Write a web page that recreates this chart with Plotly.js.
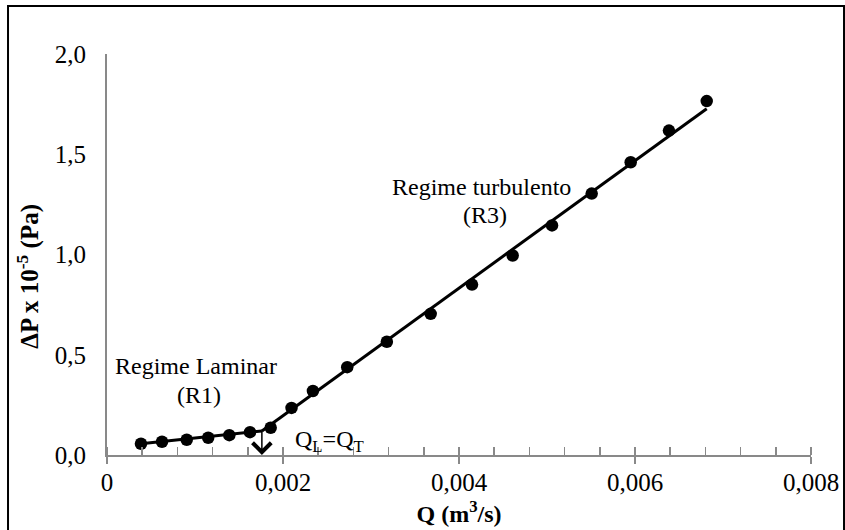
<!DOCTYPE html>
<html>
<head>
<meta charset="utf-8">
<script src="https://cdn.plot.ly/plotly-3.0.1.min.js"></script>
<style>
  html, body { margin: 0; padding: 0; background: #fff; }
  #chart { width: 845px; height: 530px; }
</style>
</head>
<body>
<div id="chart"></div>
<script>
// Measured points: flow rate Q (m3/s) and pressure drop ΔP x 10^-5 (Pa)
const flowQ = [0.000386, 0.000625, 0.000906, 0.00115, 0.00139, 0.001625, 0.00186,
               0.002097, 0.00234, 0.00273, 0.00318, 0.003678, 0.004148, 0.00461,
               0.005057, 0.005508, 0.005951, 0.006386, 0.006815];
const deltaP = [0.056, 0.066, 0.076, 0.086, 0.099, 0.114, 0.136,
                0.235, 0.319, 0.438, 0.565, 0.704, 0.850, 0.995,
                1.145, 1.304, 1.460, 1.618, 1.765];

// Trend lines (laminar R1 and turbulent R3)
const laminarFitQ = [0.000386, 0.00176];
const laminarFitP = [0.056, 0.120];
const turbulentFitQ = [0.00176, 0.006815];
const turbulentFitP = [0.120, 1.727];

// Tick labels
const xTickVals = [0, 0.002, 0.004, 0.006, 0.008];
const xTickText = ['0', '0,002', '0,004', '0,006', '0,008'];
const yTickVals = [0, 0.5, 1.0, 1.5, 2.0];
const yTickText = ['0,0', '0,5', '1,0', '1,5', '2,0'];

// Transition point Q_L = Q_T
const transitionQ = 0.00176;
const transitionP = 0.13;

const serif = "'Liberation Serif', 'Times New Roman', serif";
const axisGray = '#898989';

const traces = [
  { x: laminarFitQ, y: laminarFitP, mode: 'lines', type: 'scatter',
    line: { color: '#000', width: 3 }, hoverinfo: 'skip', showlegend: false },
  { x: turbulentFitQ, y: turbulentFitP, mode: 'lines', type: 'scatter',
    line: { color: '#000', width: 3 }, hoverinfo: 'skip', showlegend: false },
  { x: flowQ, y: deltaP, mode: 'markers', type: 'scatter',
    marker: { color: '#000', size: 12.5 }, showlegend: false }
];

const layout = {
  width: 845, height: 530,
  margin: { l: 107, r: 34, t: 54, b: 75 },
  paper_bgcolor: '#fff', plot_bgcolor: '#fff',
  font: { family: serif, color: '#000', size: 24 },
  showlegend: false,
  xaxis: {
    range: [0, 0.008], fixedrange: true,
    tickvals: xTickVals, ticktext: xTickText,
    ticks: 'outside', ticklen: 7, tickwidth: 2, tickcolor: axisGray,
    minor: { dtick: 0.0004, ticks: 'inside', ticklen: 8, tickwidth: 1.5, tickcolor: axisGray, showgrid: false },
    showline: true, linecolor: axisGray, linewidth: 2,
    showgrid: false, zeroline: false,
    tickfont: { family: serif, size: 25, color: '#000' },
    ticklabelstandoff: -3,
    automargin: false,
    title: { text: '<b>Q (m<sup>3</sup>/s)</b>', font: { family: serif, size: 24, color: '#000' }, standoff: 10 }
  },
  xaxis2: {
    overlaying: 'x', anchor: 'y', side: 'bottom',
    range: [0, 0.008], fixedrange: true,
    tickvals: xTickVals, ticks: 'inside', ticklen: 8, tickwidth: 2, tickcolor: axisGray,
    showticklabels: false, showline: false, showgrid: false, zeroline: false
  },
  yaxis: {
    range: [0, 2], fixedrange: true,
    tickvals: yTickVals, ticktext: yTickText,
    ticks: '', showline: true, linecolor: axisGray, linewidth: 2,
    showgrid: false, zeroline: false,
    tickfont: { family: serif, size: 25, color: '#000' },
    ticklabelstandoff: 14,
    automargin: false,
    title: { text: '<b>ΔP x 10<sup>-5</sup> (Pa)</b>&nbsp;&nbsp;&nbsp;&nbsp;&nbsp;&nbsp;&nbsp;', font: { family: serif, size: 25, color: '#000' }, standoff: 9 }
  },
  annotations: [
    { xref: 'x', yref: 'y', x: 0.00101, y: 0.445, text: 'Regime Laminar', showarrow: false,
      font: { family: serif, size: 24 } },
    { xref: 'x', yref: 'y', x: 0.00104, y: 0.30, text: '(R1)', showarrow: false,
      font: { family: serif, size: 24 } },
    { xref: 'x', yref: 'y', x: 0.00426, y: 1.335, text: 'Regime turbulento', showarrow: false,
      font: { family: serif, size: 24 } },
    { xref: 'x', yref: 'y', x: 0.00430, y: 1.195, text: '(R3)', showarrow: false,
      font: { family: serif, size: 24 } },
    { xref: 'x', yref: 'y', x: 0.00253, y: 0.07, text: 'Q<sub>L</sub>=Q<sub>T</sub>', showarrow: false,
      font: { family: serif, size: 24 } },
    { xref: 'x', yref: 'y', x: transitionQ, y: 0, axref: 'x', ayref: 'y', ax: transitionQ, ay: transitionP,
      text: '', showarrow: true, arrowhead: 4, arrowsize: 2.4, arrowwidth: 1.5, arrowcolor: '#000', standoff: 0 }
  ],
  shapes: [
    { type: 'rect', xref: 'paper', yref: 'paper', x0: -0.1406, x1: 1.0469, y0: -0.1995, y1: 1.1197,
      line: { color: '#000', width: 2 }, fillcolor: 'rgba(0,0,0,0)', layer: 'below' }
  ]
};

Plotly.newPlot('chart', traces, layout, { staticPlot: true, displayModeBar: false });
</script>
</body>
</html>
